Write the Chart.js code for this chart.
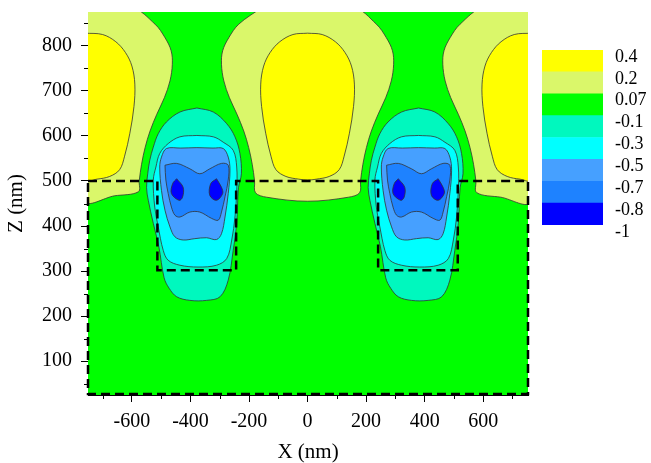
<!DOCTYPE html>
<html>
<head>
<meta charset="utf-8">
<script src="https://cdn.jsdelivr.net/npm/chart.js@4.4.1/dist/chart.umd.min.js"></script>
<style>
  html, body { margin: 0; padding: 0; background: #fff; }
  #wrap { position: relative; width: 651px; height: 463px; overflow: hidden; }
  #main { position: absolute; left: 0; top: 0; }
  #bar { position: absolute; left: 542px; top: 40px; }
</style>
</head>
<body>
<div id="wrap">
  <canvas id="main" width="651" height="463"></canvas>
  <canvas id="bar" width="109" height="210"></canvas>
</div>
<script>
// axis ticks (nm)
const xTicks = [-600, -400, -200, 0, 200, 400, 600];
const xMinorTicks = [-700, -500, -300, -100, 100, 300, 500, 700];
const zTicks = [100, 200, 300, 400, 500, 600, 700, 800];
const zMinorTicks = [50, 150, 250, 350, 450, 550, 650, 750, 850];

// colour scale, top to bottom
const levelLabels = ['0.4', '0.2', '0.07', '-0.1', '-0.3', '-0.5', '-0.7', '-0.8', '-1'];
const levelColors = ['#FFFF00', '#DAF76A', '#00FF00', '#00F8BE', '#00FFFF', '#46A0FF', '#1E82FF', '#0000FF'];

// contour outlines [x nm, z nm]
const lygLeft = [[-760,885],[-600,885],[-521,848],[-487,818],[-466,789],[-462,759],[-470,722],[-489,685],[-515,648],[-538,611],[-555,574],[-567,537],[-575,500],[-578,476],[-660,467],[-760,457]];
const lygCenter = [[-156,885],[-235,848],[-269,818],[-290,789],[-294,759],[-286,722],[-267,685],[-241,648],[-218,611],[-201,574],[-189,537],[-181,500],[-178,474],[-140,464],[0,455],[140,464],[178,474],[181,500],[189,537],[201,574],[218,611],[241,648],[267,685],[286,722],[294,759],[290,789],[269,818],[235,848],[156,885]];
const lygRight = [[760,885],[600,885],[521,848],[487,818],[466,789],[462,759],[470,722],[489,685],[515,648],[538,611],[555,574],[567,537],[575,500],[578,474],[660,464],[760,455]];

const yellowLeft = [[-760,828],[-700,825],[-655,809],[-622,785],[-600,755],[-590,715],[-593,665],[-607,606],[-625,555],[-642,525],[-676,510],[-720,504],[-760,502]];
const yellowCenter = [[0,828],[50,825],[95,809],[128,785],[150,755],[160,715],[157,665],[143,606],[125,555],[108,525],[74,510],[30,504],[0,502],[-30,504],[-74,510],[-108,525],[-125,555],[-143,606],[-157,665],[-160,715],[-150,755],[-128,785],[-95,809],[-50,825]];
const yellowRight = [[766,828],[706,825],[661,809],[628,785],[606,755],[596,715],[599,665],[613,606],[631,555],[648,525],[682,510],[726,504],[766,502]];

// hole contours, x relative to each hole centre
const holeCenters = [-378, 379];
const holeAqua = [[0,662],[56,653],[102,627],[130,598],[147,561],[152,516],[142,485],[136,406],[124,346],[107,280],[79,243],[33,235],[-24,235],[-69,243],[-95,262],[-112,285],[-130,354],[-149,406],[-166,457],[-172,485],[-168,516],[-161,546],[-149,575],[-132,605],[-104,631],[-58,653]];
const holeCyan = [[0,601],[56,598],[90,586],[124,568],[136,531],[136,479],[130,420],[119,369],[102,328],[67,313],[4,309],[-58,313],[-98,324],[-115,346],[-132,398],[-144,442],[-149,502],[-140,531],[-127,561],[-98,583],[-58,598]];
const holeLightBlue = [[0,574],[55,573],[90,572],[107,553],[113,524],[107,472],[96,420],[84,383],[67,370],[33,374],[-7,372],[-47,369],[-75,376],[-92,398],[-109,435],[-121,479],[-127,531],[-121,553],[-104,572],[-55,573]];
const holeBlue = [[-109,535],[-69,539],[-24,527],[10,516],[44,527],[84,539],[107,535],[107,502],[96,465],[84,431],[73,413],[50,417],[10,431],[-24,431],[-58,420],[-75,424],[-87,442],[-98,472],[-106,502]];
const spotLeft = [[-69,505],[-47,486],[-49,464],[-61,457],[-87,472],[-83,494]];
const spotRight = [[67,505],[84,486],[88,472],[67,457],[44,468],[47,494]];

// dashed structure outline
const structX = [-750, -513, -513, -244, -244, 241, 241, 513, 513, 753, 753, -750, -750];
const structZ = [500, 500, 302, 302, 500, 500, 302, 302, 500, 500, 27, 27, 500];

const serif = "'Liberation Serif', 'Times New Roman', serif";

function outline(points, dx) {
    const pts = points.map(p => ({x: p[0] + dx, y: p[1]}));
    pts.push(pts[0]);
    return pts;
}

function noPadding(s) {
    s.paddingTop = 0;
    s.paddingBottom = 0;
    s.paddingLeft = 0;
    s.paddingRight = 0;
}

// bottom layer first
const layers = [
    {pts: lygLeft, dx: 0, color: levelColors[1]},
    {pts: lygCenter, dx: 0, color: levelColors[1]},
    {pts: lygRight, dx: 0, color: levelColors[1]},
    {pts: yellowLeft, dx: 0, color: levelColors[0]},
    {pts: yellowCenter, dx: 0, color: levelColors[0]},
    {pts: yellowRight, dx: 0, color: levelColors[0]}
];
holeCenters.forEach(c => {
    layers.push({pts: holeAqua, dx: c, color: levelColors[3]});
    layers.push({pts: holeCyan, dx: c, color: levelColors[4]});
    layers.push({pts: holeLightBlue, dx: c, color: levelColors[5]});
    layers.push({pts: holeBlue, dx: c, color: levelColors[6]});
    layers.push({pts: spotLeft, dx: c, color: levelColors[7]});
    layers.push({pts: spotRight, dx: c, color: levelColors[7]});
});

const datasets = layers.map((l, i) => ({
    data: outline(l.pts, l.dx),
    showLine: true,
    fill: 'shape',
    backgroundColor: l.color,
    borderColor: '#333',
    borderWidth: 0.8,
    pointRadius: 0,
    tension: 0.35,
    clip: 0,
    order: layers.length - i + 1
}));

datasets.push({
    data: structX.map((x, i) => ({x: x, y: structZ[i]})),
    showLine: true,
    fill: false,
    borderColor: '#000',
    borderWidth: 2.5,
    borderDash: [9, 5],
    pointRadius: 0,
    tension: 0,
    clip: false,
    order: 0
});

const plotBackground = {
    id: 'plotBackground',
    beforeDatasetsDraw(chart) {
        const {ctx, chartArea: a} = chart;
        ctx.save();
        ctx.fillStyle = levelColors[2];
        ctx.fillRect(a.left, a.top, a.width, a.height);
        ctx.restore();
    }
};

const minorTicks = {
    id: 'minorTicks',
    afterDraw(chart) {
        const {ctx, chartArea: a, scales} = chart;
        ctx.save();
        ctx.strokeStyle = '#000';
        ctx.lineWidth = 1;
        ctx.beginPath();
        xMinorTicks.forEach(v => {
            const px = Math.round(scales.x.getPixelForValue(v)) + 0.5;
            ctx.moveTo(px, a.bottom);
            ctx.lineTo(px, a.bottom + 4);
        });
        zMinorTicks.forEach(v => {
            const py = Math.round(scales.y.getPixelForValue(v)) + 0.5;
            ctx.moveTo(a.left - 4, py);
            ctx.lineTo(a.left, py);
        });
        ctx.stroke();
        ctx.restore();
    }
};

new Chart(document.getElementById('main'), {
    type: 'scatter',
    data: {datasets: datasets},
    options: {
        responsive: false,
        animation: false,
        layout: {padding: {left: 0, top: 12, right: 123, bottom: 0}},
        plugins: {legend: {display: false}, tooltip: {enabled: false}},
        scales: {
            x: {
                type: 'linear',
                position: 'bottom',
                min: -750,
                max: 753,
                z: 1,
                afterBuildTicks: s => { s.ticks = xTicks.map(v => ({value: v})); },
                afterFit: s => { s.height = 68; noPadding(s); },
                grid: {drawOnChartArea: false, tickLength: 7, tickColor: '#000'},
                border: {display: true, color: '#000', width: 1},
                ticks: {color: '#000', font: {family: serif, size: 20}, padding: 8, maxRotation: 0, autoSkip: false},
                title: {display: true, text: 'X (nm)', color: '#000', font: {family: serif, size: 21}, padding: {top: 0, bottom: -2}}
            },
            y: {
                type: 'linear',
                position: 'left',
                min: 25,
                max: 875,
                z: 1,
                afterBuildTicks: s => { s.ticks = zTicks.map(v => ({value: v})); },
                afterFit: s => { s.width = 88; noPadding(s); },
                grid: {drawOnChartArea: false, tickLength: 7, tickColor: '#000'},
                border: {display: true, color: '#000', width: 1},
                ticks: {color: '#000', font: {family: serif, size: 20}, padding: 9, autoSkip: false},
                title: {display: true, text: 'Z (nm)', color: '#000', font: {family: serif, size: 21}, padding: {top: 4, bottom: 0}}
            }
        }
    },
    plugins: [plotBackground, minorTicks]
});

// colour bar: bottom block first
const barColors = levelColors.slice().reverse();
new Chart(document.getElementById('bar'), {
    type: 'bar',
    data: {
        labels: [''],
        datasets: barColors.map(c => ({
            data: [1],
            backgroundColor: c,
            borderWidth: 0,
            barPercentage: 1,
            categoryPercentage: 1
        }))
    },
    options: {
        responsive: false,
        animation: false,
        layout: {padding: {left: 0, top: 10, right: 0, bottom: 25}},
        plugins: {legend: {display: false}, tooltip: {enabled: false}},
        scales: {
            x: {display: false, stacked: true},
            y: {display: false, stacked: true, min: 0, max: 8},
            yLabels: {
                position: 'right',
                min: 0,
                max: 8,
                afterBuildTicks: s => { s.ticks = levelLabels.map((t, i) => ({value: 8 - i})); },
                afterFit: s => { s.width = 48; noPadding(s); },
                grid: {display: false, drawTicks: false},
                border: {display: false},
                ticks: {
                    color: '#000',
                    font: {family: serif, size: 18},
                    padding: 12,
                    labelOffset: 7,
                    autoSkip: false,
                    callback: (v) => levelLabels[8 - v]
                }
            }
        }
    }
});
</script>
</body>
</html>
